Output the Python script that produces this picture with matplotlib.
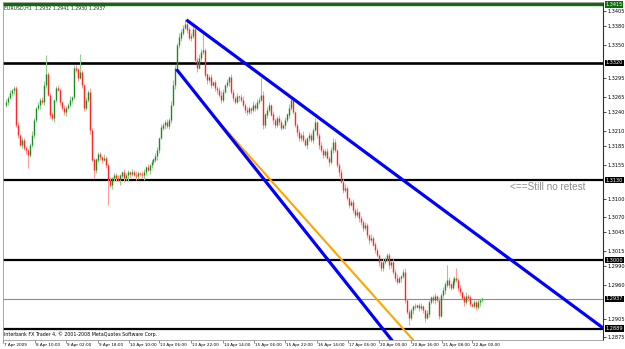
import numpy as np
import matplotlib.pyplot as plt
from matplotlib.transforms import blended_transform_factory

# EURUSD H1 closes, in pips above 1.0000 (one value per hourly bar)
close_pips = [
    3257, 3263, 3271, 3276, 3279, 3219, 3203, 3187, 3195, 3182, 3179, 3171, 3187, 3203, 3227, 3247, 3252, 3260, 3257, 3284,
    3301, 3268, 3236, 3231, 3260, 3279, 3276, 3257, 3247, 3240, 3247, 3252, 3260, 3265, 3312, 3309, 3296, 3305, 3284, 3247,
    3260, 3273, 3211, 3163, 3146, 3163, 3171, 3167, 3163, 3166, 3154, 3130, 3122, 3133, 3138, 3133, 3130, 3137, 3143, 3133,
    3138, 3143, 3140, 3143, 3138, 3137, 3141, 3140, 3138, 3143, 3150, 3146, 3154, 3159, 3163, 3169, 3179, 3198, 3215, 3219,
    3224, 3218, 3227, 3252, 3284, 3312, 3349, 3361, 3369, 3377, 3382, 3374, 3361, 3364, 3374, 3325, 3312, 3328, 3338, 3341,
    3301, 3292, 3296, 3284, 3289, 3279, 3276, 3268, 3260, 3273, 3284, 3289, 3296, 3273, 3263, 3257, 3266, 3265, 3260, 3252,
    3244, 3240, 3247, 3244, 3252, 3247, 3257, 3260, 3268, 3219, 3236, 3244, 3252, 3236, 3227, 3219, 3231, 3224, 3215, 3219,
    3227, 3236, 3247, 3260, 3240, 3219, 3208, 3198, 3203, 3195, 3187, 3198, 3203, 3195, 3211, 3224, 3203, 3187, 3179, 3171,
    3176, 3166, 3159, 3179, 3192, 3179, 3154, 3143, 3127, 3114, 3117, 3101, 3090, 3094, 3081, 3073, 3078, 3068, 3062, 3052,
    3057, 3041, 3033, 3036, 3025, 3016, 3008, 2997, 2987, 2997, 3000, 3008, 2992, 2997, 2981, 2971, 2965, 2971, 2974, 2981,
    2935, 2916, 2906, 2919, 2925, 2924, 2926, 2922, 2925, 2919, 2906, 2913, 2932, 2939, 2935, 2942, 2935, 2909, 2943, 2951,
    2960, 2968, 2960, 2955, 2965, 2971, 2968, 2955, 2948, 2939, 2932, 2942, 2939, 2929, 2926, 2932, 2924, 2932, 2935, 2937,
]
first_open = 1.3252

# upper / lower shadow length of each bar, in pips
wick_up = [
    4, 3, 5, 2, 4, 3, 6, 2, 5, 3, 4, 2, 3, 6, 4, 2, 5, 3, 4, 6,
    32, 4, 3, 5, 2, 4, 6, 3, 2, 5, 4, 3, 6, 2, 4, 5, 3, 30, 4, 2,
    5, 3, 6, 4, 2, 3, 5, 4, 2, 6, 3, 4, 5, 2, 3, 4, 6, 3, 2, 5,
    4, 3, 2, 5, 4, 6, 3, 2, 4, 5, 3, 6, 2, 4, 3, 5, 4, 2, 6, 3,
    4, 5, 3, 6, 8, 5, 4, 7, 6, 5, 9, 6, 4, 5, 7, 3, 4, 6, 5, 28,
    4, 3, 5, 6, 2, 4, 3, 5, 6, 4, 2, 5, 3, 6, 4, 3, 5, 2, 4, 6,
    3, 5, 4, 2, 6, 3, 4, 5, 28, 6, 3, 4, 5, 2, 6, 4, 3, 5, 4, 2,
    5, 3, 6, 5, 4, 2, 3, 5, 4, 6, 3, 2, 5, 4, 3, 7, 2, 4, 5, 3,
    4, 6, 3, 5, 6, 4, 2, 3, 5, 4, 6, 3, 2, 4, 5, 3, 6, 2, 4, 3,
    5, 4, 2, 6, 3, 5, 4, 2, 3, 6, 5, 4, 3, 2, 5, 4, 6, 3, 2, 4,
    6, 3, 5, 4, 2, 6, 3, 4, 5, 3, 2, 6, 4, 3, 5, 4, 2, 6, 3, 5,
    4, 24, 5, 3, 6, 4, 16, 3, 5, 2, 4, 6, 3, 5, 2, 4, 3, 5, 4, 3,
]
wick_dn = [
    3, 5, 2, 4, 6, 3, 4, 2, 5, 3, 6, 21, 4, 3, 5, 2, 4, 6, 3, 5,
    4, 2, 5, 3, 6, 4, 2, 5, 3, 4, 6, 2, 3, 5, 4, 3, 6, 2, 4, 5,
    3, 4, 6, 2, 13, 5, 3, 4, 6, 2, 5, 40, 3, 6, 4, 5, 2, 8, 4, 6,
    3, 9, 5, 4, 2, 7, 6, 3, 5, 8, 4, 2, 6, 5, 3, 4, 7, 5, 2, 4,
    6, 3, 5, 4, 2, 6, 3, 4, 5, 3, 2, 6, 4, 5, 3, 4, 6, 2, 5, 3,
    4, 6, 3, 5, 2, 4, 6, 3, 5, 4, 2, 3, 6, 4, 5, 3, 2, 6, 4, 3,
    5, 4, 2, 6, 3, 5, 4, 3, 2, 6, 4, 5, 3, 2, 6, 4, 3, 5, 4, 2,
    6, 3, 5, 4, 2, 3, 6, 4, 5, 3, 2, 6, 4, 3, 5, 2, 4, 6, 3, 5,
    4, 2, 6, 3, 5, 4, 3, 6, 2, 5, 4, 3, 6, 2, 5, 4, 3, 6, 5, 4,
    3, 5, 6, 4, 2, 5, 3, 6, 4, 5, 3, 2, 6, 4, 3, 5, 4, 2, 6, 3,
    5, 4, 11, 3, 6, 4, 2, 5, 3, 4, 6, 2, 5, 3, 4, 6, 3, 5, 2, 4,
    6, 3, 5, 4, 2, 6, 3, 5, 4, 2, 6, 3, 5, 4, 2, 3, 5, 4, 6, 3,
]

time_labels = ['7 Apr 2009', '8 Apr 10:00', '9 Apr 02:00', '9 Apr 18:00', '10 Apr 10:00',
               '13 Apr 06:00', '13 Apr 22:00', '14 Apr 14:00', '15 Apr 06:00', '15 Apr 22:00',
               '16 Apr 14:00', '17 Apr 06:00', '20 Apr 00:00', '20 Apr 16:00', '21 Apr 08:00',
               '22 Apr 00:00']
label_bars = [-1.5, 14.5, 30, 46, 61.5, 77, 93, 109, 124.5, 140, 156, 171.5, 187, 203, 218.5, 234]

price_ticks = [1.3405, 1.3380, 1.3350, 1.3295, 1.3265, 1.3240, 1.3210, 1.3185, 1.3155,
               1.3100, 1.3070, 1.3045, 1.3015, 1.2990, 1.2960, 1.2905, 1.2875]

levels = [1.3415, 1.3320, 1.3130, 1.3000, 1.2889]
level_colors = ['#0a6e0a', 'black', 'black', 'black', 'black']
level_widths = [2.4, 1.9, 1.6, 1.6, 1.6]
bid = 1.2937

# trendlines: (bar positions, prices)
upper_bars, upper_prices = [90.5, 299.5], [1.3390, 1.2890]
lower_bars, lower_prices = [85.5, 197.5], [1.3310, 1.2854]
orange_bars, orange_prices = [105.5, 208.5], [1.3229, 1.2855]

closes = 1 + np.array(close_pips) / 10000
opens = np.r_[first_open, closes[:-1]]
highs = np.maximum(opens, closes) + np.array(wick_up) / 10000
lows = np.minimum(opens, closes) - np.array(wick_dn) / 10000
bars = np.arange(len(closes))
up = closes >= opens

fig = plt.figure(figsize=(6.25, 3.49), dpi=100)
ax = fig.add_axes([3 / 625, 1 - 340 / 349, 600 / 625, 338 / 349])
ax.set_xlim(-0.5, 299.5)
ax.set_ylim(1.28704, 1.34190)

# level lines
for lv, c, w in zip(levels, level_colors, level_widths):
    ax.axhline(lv, color=c, lw=w, zorder=2)
ax.axhline(bid, color='#8c8c8c', lw=0.8, zorder=2)

# candles
wick_cols = np.where(up, '#8fcf8f', '#ff9c9c')
body_cols = np.where(up, '#1f8a1f', '#ff2626')
ax.vlines(bars, lows, highs, colors=wick_cols, lw=0.75, zorder=3)
ax.vlines(bars, np.minimum(opens, closes), np.maximum(opens, closes) + 0.00005,
          colors=body_cols, lw=1.0, zorder=4)

# trendlines
ax.plot(orange_bars, orange_prices, color='#ffa500', lw=1.5, zorder=5, solid_capstyle='butt')
ax.plot(upper_bars, upper_prices, color='#0000ff', lw=2.3, zorder=6, solid_capstyle='butt')
ax.plot(lower_bars, lower_prices, color='#0000ff', lw=2.3, zorder=6, solid_capstyle='butt')

ax.text(253, 1.3118, '<==Still no retest', fontsize=7.2, color='#8e8e8e',
        family='Liberation Sans', va='center', ha='left', zorder=7)

# frame and axes
for s in ['left', 'top', 'bottom']:
    ax.spines[s].set_color('#9a9a9a')
    ax.spines[s].set_linewidth(0.6)
ax.spines['right'].set_color('#303030')
ax.spines['right'].set_linewidth(0.8)

ax.yaxis.tick_right()
ax.set_yticks(price_ticks)
ax.set_yticklabels([f'{p:.4f}' for p in price_ticks])
ax.tick_params(axis='y', labelsize=3.6, length=2, width=0.5, pad=1, colors='black')
ax.set_xticks(label_bars)
ax.set_xticklabels([])
ax.tick_params(axis='x', length=2, width=0.5, colors='#606060')

trans_r = blended_transform_factory(ax.transAxes, ax.transData)
for lv, c in zip(levels + [bid], level_colors + ['black']):
    ax.text(1.004, lv, f'{lv:.4f}', transform=trans_r, fontsize=3.6, color='white',
            va='center', ha='left', zorder=8, clip_on=False,
            bbox=dict(boxstyle='square,pad=0.15', fc=c, ec='none'))

trans_b = blended_transform_factory(ax.transData, ax.transAxes)
for b, lab in zip(label_bars, time_labels):
    ax.text(b + 0.5, -0.014, lab, transform=trans_b, fontsize=3.0, color='black',
            va='center', ha='left', clip_on=False)

ax.text(0.002, 0.99, 'EURUSD,H1  1.2932 1.2941 1.2930 1.2937', transform=ax.transAxes,
        fontsize=3.4, color='#0c3c0c', va='top', ha='left', zorder=9)
ax.text(0.002, 0.008, 'Interbank FX Trader 4, \u00a9 2001-2008 MetaQuotes Software Corp.',
        transform=ax.transAxes, fontsize=3.4, color='black', va='bottom', ha='left', zorder=9)

fig.savefig('out.png', dpi=100)
